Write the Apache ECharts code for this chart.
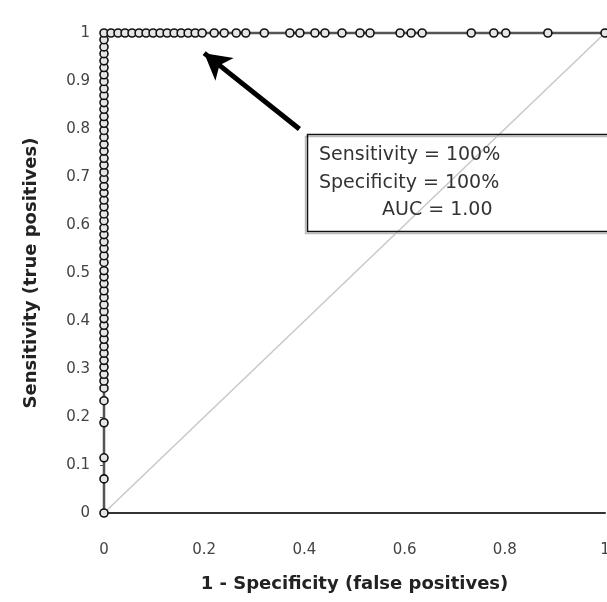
<!DOCTYPE html>
<html><head><meta charset="utf-8">
<script src="https://cdn.jsdelivr.net/npm/echarts@6/dist/echarts.min.js"></script>
<style>html,body{margin:0;padding:0;background:#fff;overflow:hidden}#c{width:607px;height:602px}</style>
</head><body><div id="c"></div>
<script>
// ROC points along x = 0 (false-positive rate 0), sensitivity values
var leftTpr = [0, 0.071, 0.115, 0.188, 0.234, 0.26, 0.275, 0.289, 0.304, 0.318, 0.333, 0.347, 0.362, 0.376, 0.391, 0.405, 0.42, 0.434, 0.449, 0.463, 0.478, 0.492, 0.505, 0.522, 0.536, 0.551, 0.565, 0.58, 0.594, 0.609, 0.623, 0.638, 0.652, 0.667, 0.681, 0.696, 0.71, 0.725, 0.739, 0.754, 0.768, 0.783, 0.797, 0.812, 0.826, 0.841, 0.855, 0.87, 0.884, 0.899, 0.913, 0.928, 0.942, 0.957, 0.971, 0.986, 1];
// ROC points along y = 1 (sensitivity 1), false-positive values
var topFpr = [0.014, 0.028, 0.042, 0.056, 0.07, 0.084, 0.098, 0.112, 0.126, 0.14, 0.154, 0.168, 0.182, 0.196, 0.22, 0.24, 0.264, 0.283, 0.32, 0.371, 0.391, 0.421, 0.441, 0.475, 0.511, 0.531, 0.591, 0.613, 0.635, 0.733, 0.778, 0.802, 0.886, 1];
var xTicks = [0, 0.2, 0.4, 0.6, 0.8, 1];
var yTicks = [0, 0.1, 0.2, 0.3, 0.4, 0.5, 0.6, 0.7, 0.8, 0.9, 1];
var diagonal = [[0, 0], [1, 1]];
var boxLines = ['Sensitivity = 100%', 'Specificity = 100%', 'AUC = 1.00'];

var roc = [];
leftTpr.forEach(function (v) { roc.push([0, v]); });
topFpr.forEach(function (v) { roc.push([v, 1]); });

var chart = echarts.init(document.getElementById('c'), null, {renderer: 'canvas', width: 607, height: 602});
var FONT = 'DejaVu Sans';
chart.setOption({
  animation: false,
  backgroundColor: '#fff',
  grid: {left: 104, right: 2, top: 33, bottom: 89, containLabel: false, outerBoundsMode: 'none'},
  xAxis: {
    type: 'value', min: 0, max: 1, interval: 0.2,
    name: '1 - Specificity (false positives)', nameLocation: 'middle', nameGap: 62,
    nameTextStyle: {fontFamily: FONT, fontWeight: 'bold', fontSize: 18, color: '#222'},
    axisLine: {lineStyle: {color: '#333', width: 2}},
    axisTick: {show: false},
    axisLabel: {margin: 30, fontFamily: FONT, fontSize: 15, color: '#444',
      formatter: function (v) { return String(v); }},
    splitLine: {show: false}
  },
  yAxis: {
    type: 'value', min: 0, max: 1, interval: 0.1,
    name: 'Sensitivity (true positives)', nameLocation: 'middle', nameGap: 64,
    nameTextStyle: {fontFamily: FONT, fontWeight: 'bold', fontSize: 18, color: '#222'},
    axisLine: {lineStyle: {color: '#777', width: 2}},
    axisTick: {show: true, length: 4, lineStyle: {color: '#555'}},
    axisLabel: {margin: 14, fontFamily: FONT, fontSize: 15, color: '#444',
      formatter: function (v) { return String(Math.round(v * 10) / 10); }},
    splitLine: {show: false}
  },
  series: [
    {
      type: 'line', data: diagonal, showSymbol: false, symbol: 'none', z: 1,
      lineStyle: {color: '#c8c8c8', width: 1.5}, silent: true
    },
    {
      type: 'line', data: roc, z: 3, clip: false,
      symbol: 'circle', symbolSize: 8,
      lineStyle: {color: '#555', width: 2.5},
      itemStyle: {color: '#e6e6e6', borderColor: '#111', borderWidth: 1.6},
      markLine: {
        silent: true, symbol: ['none', 'arrow'], symbolSize: [22, 26],
        lineStyle: {color: '#000', width: 5, type: 'solid'},
        label: {show: false},
        data: [[{coord: [0.39, 0.8]}, {coord: [0.2, 0.958]}]]
      }
    }
  ],
  graphic: [
    {type: 'rect', left: 303, top: 134, z: 10, shape: {width: 303, height: 97},
      style: {fill: 'none', stroke: '#bbb', lineWidth: 1.5}},
    {type: 'rect', left: 305, top: 132, z: 11, shape: {width: 303, height: 97},
      style: {fill: 'none', stroke: '#111', lineWidth: 1.5}},
    {type: 'text', left: 319, top: 146, z: 12,
      style: {text: boxLines[0], font: '19px "DejaVu Sans"', fill: '#333'}},
    {type: 'text', left: 319, top: 174, z: 12,
      style: {text: boxLines[1], font: '19px "DejaVu Sans"', fill: '#333'}},
    {type: 'text', left: 382, top: 201, z: 12,
      style: {text: boxLines[2], font: '19px "DejaVu Sans"', fill: '#333'}}
  ]
});
</script></body></html>
